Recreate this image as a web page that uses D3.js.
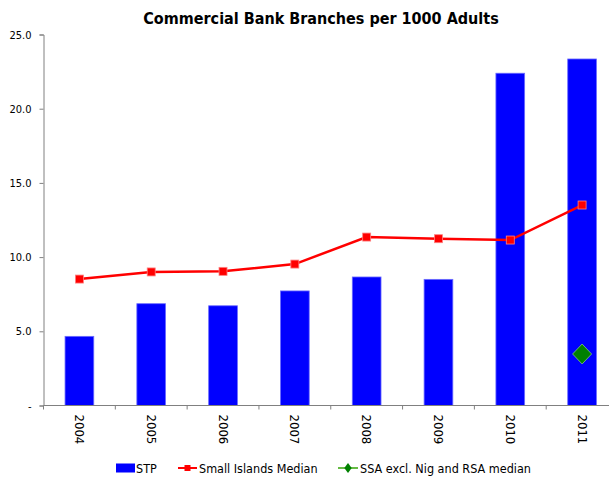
<!DOCTYPE html>
<html>
<head>
<meta charset="utf-8">
<script src="https://cdn.jsdelivr.net/npm/d3@7"></script>
<style>
  html, body { margin: 0; padding: 0; background: #fff; }
  svg { display: block; }
  text { font-family: "DejaVu Sans Condensed", "DejaVu Sans", sans-serif; font-stretch: condensed; }
</style>
</head>
<body>
<svg id="chart" width="609" height="477"></svg>
<script>
// Commercial bank branches per 1000 adults
const years = ["2004", "2005", "2006", "2007", "2008", "2009", "2010", "2011"];
const stpValues = [4.66, 6.86, 6.72, 7.72, 8.66, 8.50, 22.39, 23.35];
const smallIslandsMedian = [8.52, 9.00, 9.04, 9.53, 11.35, 11.24, 11.15, 13.51];
const ssaMedian = [null, null, null, null, null, null, null, 3.47];
const yTicks = [0, 5, 10, 15, 20, 25];
const yTickLabels = ["-", "5.0", "10.0", "15.0", "20.0", "25.0"];
const legendLabels = ["STP", "Small Islands Median", "SSA excl. Nig and RSA median"];

const svg = d3.select("#chart");

const x = d3.scaleBand()
  .domain(years)
  .range([43.5, 618])
  .paddingInner(0.6)
  .paddingOuter(0.3);

const xPoint = d => x(d) + x.bandwidth() / 2;

const y = d3.scaleLinear()
  .domain([0, 25])
  .range([405.5, 34.5]);

// Title
svg.append("text")
  .attr("x", 321)
  .attr("y", 24)
  .attr("text-anchor", "middle")
  .attr("font-size", 16)
  .attr("font-weight", "bold")
  .attr("fill", "#000")
  .text("Commercial Bank Branches per 1000 Adults");

// Bars
svg.append("g")
  .selectAll("rect")
  .data(years.map((yr, i) => ({ yr, v: stpValues[i] })))
  .join("rect")
  .attr("x", d => x(d.yr))
  .attr("width", x.bandwidth())
  .attr("y", d => y(d.v))
  .attr("height", d => y(0) - y(d.v))
  .attr("fill", "#0000FF")
  .attr("stroke", "#6b6bff")
  .attr("stroke-width", 0.8);

// Y axis
const yAxis = d3.axisLeft(y)
  .tickValues(yTicks)
  .tickFormat((d, i) => yTickLabels[i])
  .tickSize(4)
  .tickPadding(8);

const gy = svg.append("g")
  .attr("transform", "translate(43.5,0)")
  .call(yAxis);
gy.select(".domain").attr("stroke", "#808080");
gy.selectAll(".tick line").attr("stroke", "#808080");
gy.selectAll(".tick text")
  .attr("font-size", 11)
  .attr("fill", "#000")
  .style("font-family", "'DejaVu Sans Condensed', 'DejaVu Sans', sans-serif");

// X axis: ticks sit on band boundaries
const boundaries = years.map(yr => x(yr) - x.step() * x.paddingInner() / 2);
boundaries.push(boundaries[boundaries.length - 1] + x.step());

const gx = svg.append("g");
gx.append("line")
  .attr("x1", 43.5).attr("x2", 618)
  .attr("y1", y(0)).attr("y2", y(0))
  .attr("stroke", "#808080");
gx.selectAll("line.tick")
  .data(boundaries)
  .join("line")
  .attr("class", "tick")
  .attr("x1", d => d).attr("x2", d => d)
  .attr("y1", y(0)).attr("y2", y(0) + 4)
  .attr("stroke", "#808080");
gx.selectAll("text")
  .data(years)
  .join("text")
  .attr("transform", d => `translate(${xPoint(d) - 4.5},${y(0) + 9}) rotate(90)`)
  .attr("font-size", 13)
  .attr("fill", "#000")
  .text(d => d);

// Small Islands median line
const lineData = years.map((yr, i) => ({ yr, v: smallIslandsMedian[i] }));
svg.append("path")
  .datum(lineData)
  .attr("fill", "none")
  .attr("stroke", "#FF0000")
  .attr("stroke-width", 2.5)
  .attr("d", d3.line().x(d => xPoint(d.yr)).y(d => y(d.v)));

svg.append("g")
  .selectAll("rect")
  .data(lineData)
  .join("rect")
  .attr("x", d => xPoint(d.yr) - 4)
  .attr("y", d => y(d.v) - 4)
  .attr("width", 8)
  .attr("height", 8)
  .attr("fill", "#FF0000")
  .attr("stroke", "#ff8080")
  .attr("stroke-width", 0.8);

// SSA median marker
const diamond = d3.symbol().type(d3.symbolDiamond).size(115);
svg.append("g")
  .selectAll("path")
  .data(years.map((yr, i) => ({ yr, v: ssaMedian[i] })).filter(d => d.v != null))
  .join("path")
  .attr("transform", d => `translate(${xPoint(d.yr)},${y(d.v)}) scale(1.65,1)`)
  .attr("d", diamond)
  .attr("fill", "#008000")
  .attr("stroke", "#7fc97f")
  .attr("stroke-width", 0.6);

// Legend
const lg = svg.append("g");
lg.append("rect")
  .attr("x", 116).attr("y", 463.5).attr("width", 19).attr("height", 9)
  .attr("fill", "#0000FF");
lg.append("text")
  .attr("x", 136).attr("y", 472.5).attr("font-size", 12.5).text(legendLabels[0]);

lg.append("line")
  .attr("x1", 178).attr("x2", 197).attr("y1", 468).attr("y2", 468)
  .attr("stroke", "#FF0000").attr("stroke-width", 2);
lg.append("rect")
  .attr("x", 184.5).attr("y", 465).attr("width", 6).attr("height", 6)
  .attr("fill", "#FF0000");
lg.append("text")
  .attr("x", 199).attr("y", 472.5).attr("font-size", 12.5).text(legendLabels[1]);

lg.append("line")
  .attr("x1", 338).attr("x2", 358).attr("y1", 468).attr("y2", 468)
  .attr("stroke", "#66bb44").attr("stroke-width", 2);
lg.append("path")
  .attr("transform", "translate(348,468) scale(1.3,1)")
  .attr("d", d3.symbol().type(d3.symbolDiamond).size(28))
  .attr("fill", "#008000");
lg.append("text")
  .attr("x", 360).attr("y", 472.5).attr("font-size", 12.5).text(legendLabels[2]);
</script>
</body>
</html>
